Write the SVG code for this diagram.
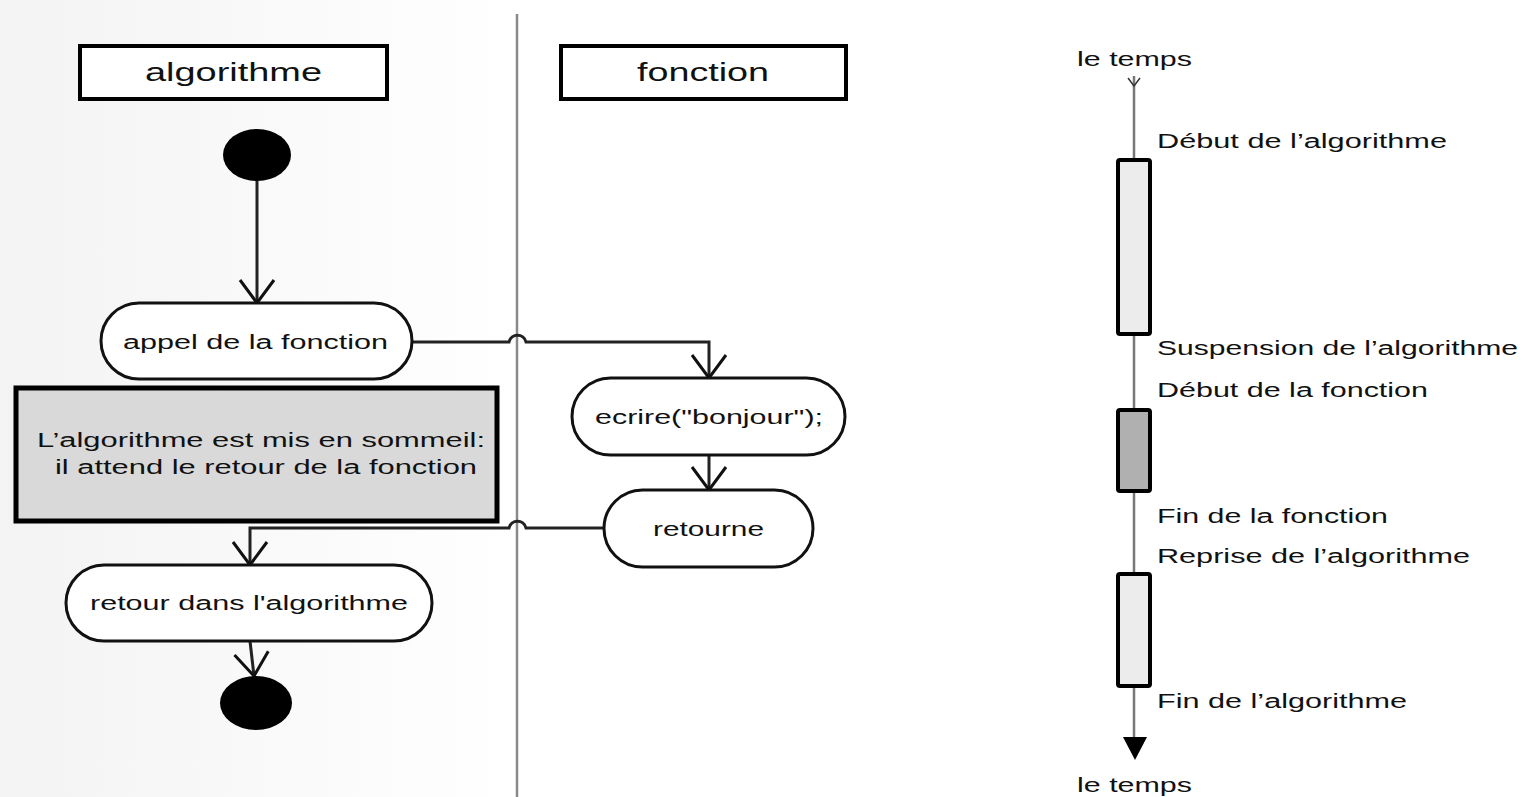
<svg xmlns="http://www.w3.org/2000/svg" width="1534" height="797" viewBox="0 0 1534 797">
<style>
text{font-family:"Liberation Sans",Arial,sans-serif;fill:#111}
.hdr{fill:#fff;stroke:#000;stroke-width:4}
.act{fill:#fff;stroke:#111;stroke-width:3}
.t20{font-size:20px}
.t24{font-size:25px}
.con{fill:none;stroke:#222;stroke-width:3}
.bar{stroke:#000;stroke-width:4}
</style>
<defs>
<linearGradient id="bg" x1="0" y1="0" x2="1" y2="0">
<stop offset="0" stop-color="#f3f3f3"/>
<stop offset="1" stop-color="#ffffff"/>
</linearGradient>
<marker id="open" viewBox="-25 -20 30 40" markerWidth="30" markerHeight="40" refX="0" refY="0" orient="auto" markerUnits="userSpaceOnUse">
<path d="M-23,-17 L0,0 L-23,17" fill="none" stroke="#111" stroke-width="3"/>
</marker>
</defs>
<rect x="0" y="0" width="1534" height="797" fill="#fff"/>
<rect x="0" y="0" width="517" height="797" fill="url(#bg)"/>
<line x1="517" y1="14" x2="517" y2="797" stroke="#8a8a8a" stroke-width="2.5"/>

<g id="connectors">
<path class="con" d="M257,181 L257,303" marker-end="url(#open)"/>
<path class="con" d="M412,342 L509,342 C511,333 524,333 526,342 L709,342 L709,378" marker-end="url(#open)"/>
<path class="con" d="M709,455 L709,490" marker-end="url(#open)"/>
<path class="con" d="M604,528 L526,528 C524,519 511,519 509,528 L250,528 L250,565" marker-end="url(#open)"/>
<path class="con" d="M250,641 L254,676" marker-end="url(#open)"/>
</g>

<g id="lane-algorithme">
<rect class="hdr" x="80" y="46" width="307" height="53"/>
<text class="t24" x="145" y="81" textLength="177" lengthAdjust="spacingAndGlyphs">algorithme</text>
</g>
<g id="lane-fonction">
<rect class="hdr" x="561" y="46" width="285" height="53"/>
<text class="t24" x="637" y="81" textLength="132" lengthAdjust="spacingAndGlyphs">fonction</text>
</g>

<g id="start"><ellipse cx="257" cy="155" rx="34" ry="26" fill="#000"/></g>

<g id="appel">
<rect class="act" x="101" y="303" width="311" height="76" rx="38" ry="38"/>
<text class="t20" x="123" y="349" textLength="265" lengthAdjust="spacingAndGlyphs">appel de la fonction</text>
</g>

<g id="sommeil">
<rect x="16" y="388" width="481" height="133" fill="#d9d9d9" stroke="#000" stroke-width="5"/>
<text class="t20" x="37" y="447" textLength="448" lengthAdjust="spacingAndGlyphs">L’algorithme est mis en sommeil:</text>
<text class="t20" x="55" y="474" textLength="422" lengthAdjust="spacingAndGlyphs">il attend le retour de la fonction</text>
</g>

<g id="ecrire">
<rect class="act" x="572" y="378" width="273" height="77" rx="38.5" ry="38.5"/>
<text class="t20" x="595" y="424" textLength="228" lengthAdjust="spacingAndGlyphs">ecrire("bonjour");</text>
</g>

<g id="retourne">
<rect class="act" x="604" y="490" width="209" height="77" rx="38.5" ry="38.5"/>
<text class="t20" x="653" y="536" textLength="111" lengthAdjust="spacingAndGlyphs">retourne</text>
</g>

<g id="retour">
<rect class="act" x="66" y="565" width="366" height="76" rx="38" ry="38"/>
<text class="t20" x="90" y="610" textLength="318" lengthAdjust="spacingAndGlyphs">retour dans l'algorithme</text>
</g>

<g id="end"><ellipse cx="256" cy="703" rx="36" ry="27" fill="#000"/></g>

<g id="timeline">
<text class="t20" x="1077" y="66" textLength="115" lengthAdjust="spacingAndGlyphs">le temps</text>
<line x1="1134" y1="76" x2="1134" y2="740" stroke="#777" stroke-width="2.5"/>
<path d="M1128,78 L1134,86 L1140,78" fill="none" stroke="#333" stroke-width="1.5"/>
<polygon points="1123,737 1147,737 1135,760" fill="#000"/>
<text class="t20" x="1077" y="792" textLength="115" lengthAdjust="spacingAndGlyphs">le temps</text>
</g>

<g id="bar-algo1">
<rect class="bar" x="1118" y="160" width="32" height="174" rx="2" fill="#ececec"/>
<text class="t20" x="1157" y="148" textLength="290" lengthAdjust="spacingAndGlyphs">Début de l’algorithme</text>
<text class="t20" x="1157" y="355" textLength="361" lengthAdjust="spacingAndGlyphs">Suspension de l’algorithme</text>
</g>
<g id="bar-fonction">
<rect class="bar" x="1118" y="410" width="32" height="81" rx="2" fill="#b0b0b0"/>
<text class="t20" x="1157" y="397" textLength="271" lengthAdjust="spacingAndGlyphs">Début de la fonction</text>
<text class="t20" x="1157" y="523" textLength="231" lengthAdjust="spacingAndGlyphs">Fin de la fonction</text>
</g>
<g id="bar-algo2">
<rect class="bar" x="1118" y="574" width="32" height="112" rx="2" fill="#ececec"/>
<text class="t20" x="1157" y="563" textLength="313" lengthAdjust="spacingAndGlyphs">Reprise de l’algorithme</text>
<text class="t20" x="1157" y="708" textLength="250" lengthAdjust="spacingAndGlyphs">Fin de l’algorithme</text>
</g>
</svg>
